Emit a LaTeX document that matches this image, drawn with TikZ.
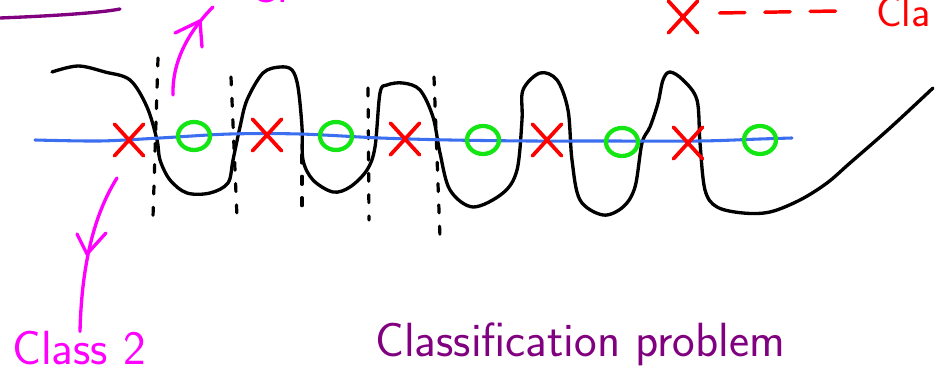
\documentclass[tikz,border=0pt]{standalone}
\usetikzlibrary{shapes.misc,shapes.geometric}
\definecolor{inkred}{RGB}{255,0,0}
\definecolor{inkgreen}{RGB}{20,230,20}
\definecolor{inkblue}{RGB}{60,110,240}
\definecolor{inkpink}{RGB}{255,0,255}
\definecolor{inkpurple}{RGB}{128,0,128}
\begin{document}
\begin{tikzpicture}[x=0.75pt, y=-0.75pt, line cap=round, line join=round,
    pen/.style={line width=2.5pt},
    wave/.style={pen, black},
    sep/.style={black, line width=2.4pt, dash pattern=on 6pt off 10pt},
    axisline/.style={line width=2.3pt, draw=inkblue},
    xmark/.style={cross out, draw=inkred, line width=2.8pt, minimum width=19pt, minimum height=21pt, inner sep=0pt},
    omark/.style={ellipse, draw=inkgreen, line width=3.2pt, minimum width=24pt, minimum height=21pt, inner sep=0pt},
    hand/.style={font=\sffamily\fontsize{36}{40}\selectfont, inner sep=0pt, anchor=base west}]
  \useasboundingbox (0,0) rectangle (951,384);
  \clip (0,0) rectangle (951,384);
  \draw[pen, inkpurple] (0,18) .. controls (50,16) and (100,13) .. (120,9);
  \node[hand, inkpink] (top) at (248,3) {Cl};
  \node[xmark] (key) at (683,17) {};
  \draw[inkred, line width=2.6pt, dash pattern=on 19pt off 15pt] (key.east) ++(22,-4) coordinate (k1) -- (837,11) coordinate (k2);
  \node[hand, inkred, font=\sffamily\fontsize{32}{36}\selectfont] (cla) at (876,27) {Cla};
  \draw[sep] (158,58) -- (153,217);
  \draw[sep] (231,77) -- (237,217);
  \draw[sep] (302,155) -- (302,212);
  \draw[sep] (368,88) -- (369,220);
  \draw[sep] (434,77) -- (440,237);
  \draw[wave] plot[smooth, tension=0.55] coordinates {(52,72) (78,66) (105,72) (130,80) (147,107) (157,140) (160,160) (170,180) (187,193) (210,193) (228,183) (233,160) (240,127) (247,100) (263,73) (280,67) (292,70) (298,87) (302,127) (303,160) (313,180) (333,192) (350,187) (367,170) (375,147) (380,93) (387,85) (403,83) (420,90) (433,117) (440,153) (450,190) (473,207) (503,193) (517,170) (522,120) (523,90) (540,73) (557,80) (568,110) (572,160) (580,200) (603,215) (623,207) (635,187) (642,143) (650,127) (658,103) (663,80) (670,72) (683,80) (697,100) (700,143) (705,190) (717,207) (743,213) (770,212) (800,200) (827,183) (850,163) (890,128) (933,88)};
  \draw[axisline] plot[smooth] coordinates {(35,140) (100,141) (160,138) (230,134) (300,134) (380,138) (450,140) (530,141) (600,141) (700,141) (760,139) (792,138)};
  \node[xmark] (x1) at (129,140) {};
  \node[xmark] (x2) at (267,135) {};
  \node[xmark] (x3) at (405,139) {};
  \node[xmark] (x4) at (547,140) {};
  \node[xmark] (x5) at (688,143) {};
  \node[omark] (o1) at (194,136) {};
  \node[omark] (o2) at (336,136) {};
  \node[omark] (o3) at (483,140) {};
  \node[omark] (o4) at (622,142) {};
  \node[omark] (o5) at (760,140) {};
  \coordinate (up0) at (173,95);
  \coordinate (uptip) at (213,7);
  \coordinate (uphead) at (200,21);
  \draw[pen, inkpink] (up0) .. controls (172,60) and (190,30) .. (uptip);
  \draw[pen, inkpink] (175,33) -- (uphead) -- (202,47);
  \node[hand, inkpink] (class2) at (12,365) {Class 2};
  \coordinate (dn0) at (117,178);
  \coordinate (dnhead) at (87,254);
  \draw[pen, inkpink] (dn0) .. controls (100,205) and (82,250) .. (class2.north west -| 80,0);
  \draw[pen, inkpink] (77,234) -- (dnhead) -- (106,233);
  \node[hand, inkpurple] (title) at (375,357) {Classification problem};
\end{tikzpicture}
\end{document}
